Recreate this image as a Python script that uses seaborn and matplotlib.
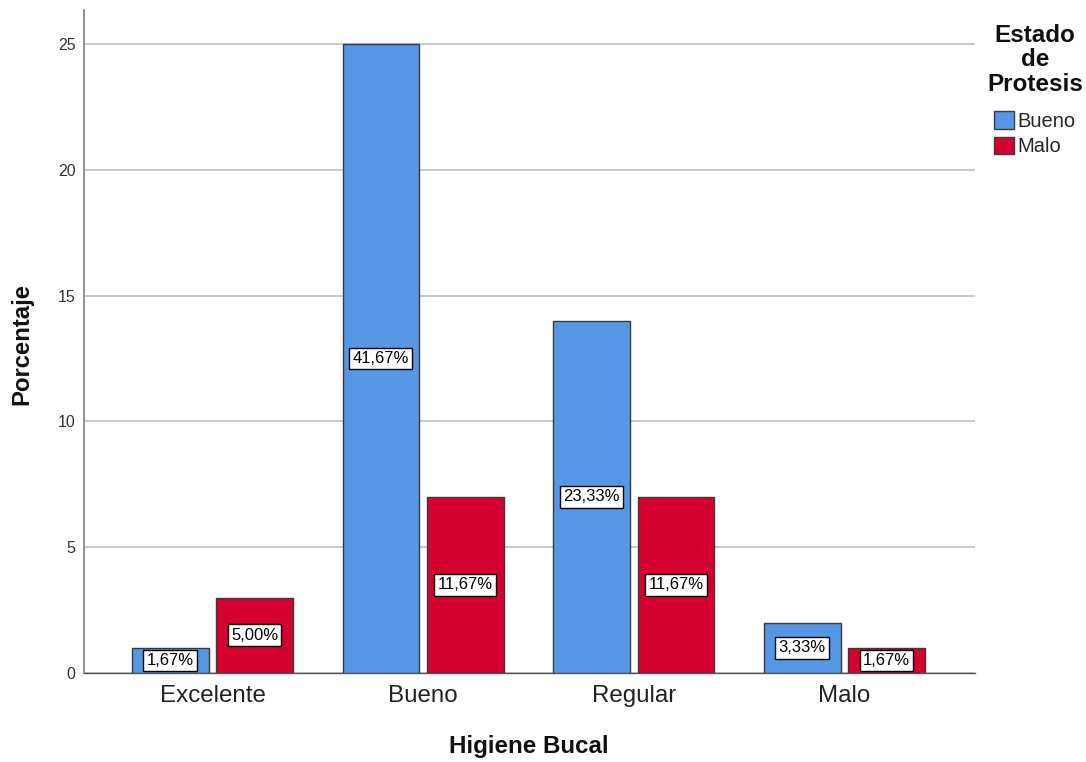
import matplotlib
matplotlib.use("Agg")
import matplotlib.pyplot as plt
import seaborn as sns
import pandas as pd
from matplotlib.patches import Patch

# Counts per oral hygiene level and prosthesis state (n = 60)
categorias = ["Excelente", "Bueno", "Regular", "Malo"]
estados = ["Bueno", "Malo"]
conteo_bueno = [1, 25, 14, 2]
conteo_malo = [3, 7, 7, 1]
total = 60
yticks = [0, 5, 10, 15, 20, 25]

colores = {"Bueno": "#5596e5", "Malo": "#d5002f"}

df = pd.DataFrame({
    "Higiene Bucal": categorias * 2,
    "Estado": ["Bueno"] * 4 + ["Malo"] * 4,
    "Valor": conteo_bueno + conteo_malo,
})

sns.set_style("white")
plt.rcParams["font.family"] = ["Liberation Sans", "DejaVu Sans"]

fig = plt.figure(figsize=(10.86, 7.62), dpi=100)
ax = fig.add_axes([0.0773, 0.1168, 0.8205, 0.870])

sns.barplot(data=df, x="Higiene Bucal", y="Valor", hue="Estado",
            order=categorias, hue_order=estados, palette=colores,
            saturation=1, width=0.8, gap=0.09, edgecolor="#3a3a3a",
            linewidth=1.0, errorbar=None, legend=False, ax=ax, zorder=3)

# Percentage labels centred in each bar
for cont in ax.containers:
    for bar in cont:
        h = bar.get_height()
        pct = f"{h / total * 100:.2f}".replace(".", ",") + "%"
        ax.text(bar.get_x() + bar.get_width() / 2, h / 2, pct,
                ha="center", va="center", fontsize=12, color="black", zorder=5,
                bbox=dict(boxstyle="square,pad=0.2", facecolor="white",
                          edgecolor="black", linewidth=1.0))

ax.set_xlim(-0.61, 3.62)
ax.set_ylim(0, 26.35)
ax.set_yticks(yticks)
ax.set_yticklabels([str(t) for t in yticks], fontsize=11.5, color="#333333")
ax.tick_params(axis="x", labelsize=17.4, colors="#222222", length=0, pad=9)
ax.tick_params(axis="y", length=0, pad=6)
ax.yaxis.grid(True, color="#c8c8c8", linewidth=1.4, zorder=0)
ax.set_axisbelow(True)

ax.set_xlabel("")
ax.set_ylabel("")
fig.text(529 / 1086, 1 - 747 / 762, "Higiene Bucal", ha="center", va="center",
         fontsize=17.4, fontweight="bold", color="#111111")
fig.text(22 / 1086, 1 - 344 / 762, "Porcentaje", ha="center", va="center",
         rotation=90, fontsize=17.2, fontweight="bold", color="#111111")

for s in ["top", "right"]:
    ax.spines[s].set_visible(False)
ax.spines["left"].set_color("#888888")
ax.spines["left"].set_linewidth(1.3)
ax.spines["bottom"].set_color("#555555")
ax.spines["bottom"].set_linewidth(1.0)

handles = [Patch(facecolor=colores[e], edgecolor="#3a3a3a", linewidth=1.0, label=e)
           for e in estados]
leg = fig.legend(handles=handles, title="Estado\nde\nProtesis",
                 loc="upper left", bbox_to_anchor=(987 / 1086, 1 - 24 / 762),
                 frameon=False, fontsize=14.5, handlelength=1.0, handleheight=0.95,
                 handletextpad=0.15, labelspacing=0.3, borderaxespad=0,
                 borderpad=0)
leg.get_title().set_fontweight("bold")
leg.get_title().set_fontsize(17.5)
leg.get_title().set_color("#111111")
leg.get_title().set_linespacing(1.08)
leg.get_title().set_multialignment("center")
leg._legend_box.align = "center"
leg._legend_box.sep = 11

fig.savefig("out.png", dpi=100)
